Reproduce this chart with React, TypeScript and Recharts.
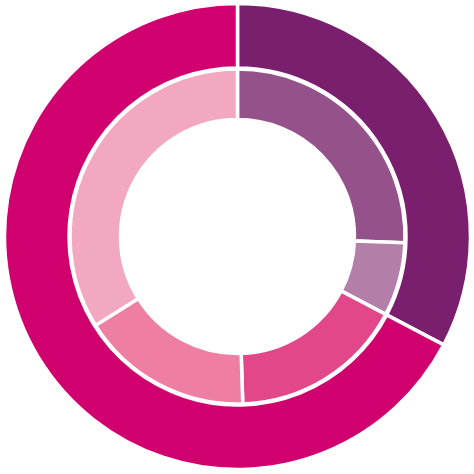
import { PieChart, Pie, Cell } from "recharts";

const outerNames = ["A", "B"];
const outerValues = [32.7, 67.3];
const outerColors = ["#7a1f6d", "#d1006f"];

const innerNames = ["A1", "A2", "B1", "B2", "B3"];
const innerValues = [25.6, 7.1, 16.8, 16.6, 33.9];
const innerColors = ["#955189", "#b37fa9", "#e2478a", "#ee7ea2", "#f3a8c2"];

const outerData = outerNames.map((name, i) => ({ name, value: outerValues[i] }));
const innerData = innerNames.map((name, i) => ({ name, value: innerValues[i] }));

export default function App() {
  return (
    <div style={{ position: "absolute", left: 0, top: 0, width: 474, height: 474, background: "#fff" }}>
      <PieChart width={474} height={474} margin={{ top: 0, right: 0, bottom: 0, left: 0 }}>
        <Pie
          data={outerData}
          dataKey="value"
          cx={237.5}
          cy={236.5}
          startAngle={90}
          endAngle={-270}
          innerRadius={168.5}
          outerRadius={233}
          stroke="#fff"
          strokeWidth={3.5}
          isAnimationActive={false}
        >
          {outerData.map((d, i) => (
            <Cell key={d.name} fill={outerColors[i]} />
          ))}
        </Pie>
        <Pie
          data={innerData}
          dataKey="value"
          cx={237.5}
          cy={236.5}
          startAngle={90}
          endAngle={-270}
          innerRadius={117}
          outerRadius={167.5}
          stroke="#fff"
          strokeWidth={3.5}
          isAnimationActive={false}
        >
          {innerData.map((d, i) => (
            <Cell key={d.name} fill={innerColors[i]} />
          ))}
        </Pie>
      </PieChart>
    </div>
  );
}
